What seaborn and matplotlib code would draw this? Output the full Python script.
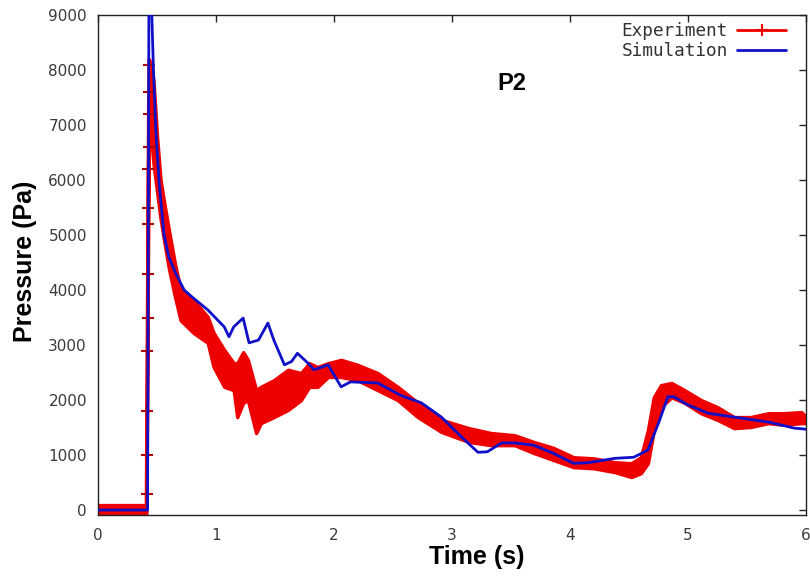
import numpy as np
import pandas as pd
import matplotlib
matplotlib.use("Agg")
import matplotlib.pyplot as plt
import seaborn as sns
from matplotlib.lines import Line2D

# ---- data ----
sim_t = [0, 0.42, 0.432, 0.445, 0.47, 0.49, 0.52, 0.56, 0.60, 0.66, 0.73, 0.81, 0.93,
         1.07, 1.11, 1.15, 1.23, 1.28, 1.36, 1.44, 1.49, 1.58, 1.64, 1.69,
         1.78, 1.83, 1.90, 1.95, 2.06, 2.14, 2.37, 2.57, 2.74, 2.91, 3.08, 3.22, 3.30,
         3.42, 3.53, 3.69, 3.86, 4.03, 4.15, 4.38, 4.54, 4.66, 4.75, 4.83, 4.88, 5.00,
         5.17, 5.39, 5.68, 5.90, 6.00]
sim_p = [0, 0, 9700, 9800, 8000, 6900, 5900, 5000, 4600, 4300, 4000, 3850, 3640,
         3330, 3150, 3330, 3490, 3040, 3090, 3400, 3090, 2640, 2700, 2850,
         2670, 2550, 2600, 2640, 2240, 2330, 2310, 2080, 1950, 1690, 1330, 1050, 1060,
         1220, 1220, 1180, 1030, 850, 860, 940, 960, 1090, 1580, 2060, 2060, 1910,
         1760, 1690, 1600, 1490, 1470]

exp_t = [0, 0.41, 0.43, 0.45, 0.47, 0.50, 0.53, 0.56, 0.60, 0.65, 0.70, 0.81, 0.93,
         0.98, 1.07, 1.15, 1.18, 1.23, 1.27, 1.34, 1.38, 1.49, 1.61, 1.72, 1.79,
         1.86, 1.95, 2.06, 2.20, 2.37, 2.54, 2.71, 2.91, 3.14, 3.33, 3.53, 3.69,
         3.86, 4.03, 4.20, 4.38, 4.52, 4.60, 4.66, 4.71, 4.77, 4.86, 4.97, 5.11, 5.25,
         5.39, 5.53, 5.68, 5.81, 5.96, 6.00]
exp_lo = [-60, -60, 6800, 6800, 6300, 5800, 5300, 4900, 4400, 3900, 3450, 3220, 3040,
          2600, 2240, 2180, 1690, 1950, 2000, 1400, 1580, 1690, 1820, 2000, 2240,
          2240, 2420, 2420, 2360, 2180, 2000, 1690, 1420, 1240, 1180, 1180, 1040,
          910, 780, 760, 690, 600, 670, 850, 1450, 1870, 2050, 1950, 1760, 1640,
          1490, 1510, 1580, 1550, 1580, 1580]
exp_hi = [90, 90, 8200, 8100, 7800, 6800, 6000, 5600, 5100, 4500, 4000, 3820, 3510,
          3220, 2910, 2670, 2670, 2870, 2730, 2180, 2240, 2360, 2550, 2490, 2670,
          2600, 2670, 2730, 2640, 2490, 2240, 1950, 1640, 1490, 1400, 1360, 1240,
          1130, 960, 940, 870, 850, 960, 1450, 2050, 2270, 2310, 2180, 2000, 1870,
          1690, 1690, 1760, 1760, 1780, 1700]
# samples on the steep rise of the experiment
rise_t = [0.415, 0.415, 0.418, 0.418, 0.42, 0.42, 0.422, 0.424, 0.426, 0.428, 0.43, 0.432, 0.434]
rise_p = [300, 1000, 1800, 2900, 3500, 4300, 5200, 5500, 6200, 6600, 7200, 7600, 8100]

x_ticks = [0, 1, 2, 3, 4, 5, 6]
y_ticks = [0, 1000, 2000, 3000, 4000, 5000, 6000, 7000, 8000, 9000]

RED = "#ee0000"
BLUE = "#1010c8"

sns.set_theme(style="white")
plt.rcParams["font.family"] = ["DejaVu Sans"]

fig = plt.figure(figsize=(8.1, 5.76), dpi=100)
ax = fig.add_axes([98 / 810, 1 - 515 / 576, (806 - 98) / 810, (515 - 15) / 576])

exp_df = pd.DataFrame({"t": exp_t, "lo": exp_lo, "hi": exp_hi})
exp_df["mid"] = (exp_df["lo"] + exp_df["hi"]) / 2
sim_df = pd.DataFrame({"t": sim_t, "p": sim_p})

ax.fill_between(exp_df["t"], exp_df["lo"], exp_df["hi"], color=RED, linewidth=2.5,
                edgecolor=RED, zorder=2)
sns.lineplot(data=exp_df, x="t", y="mid", estimator=None, sort=False, color=RED,
             linewidth=2.5, ax=ax, zorder=2)
sns.lineplot(x=rise_t, y=rise_p, estimator=None, sort=False, color=RED, linewidth=2,
             marker="+", markersize=9, markeredgewidth=1.5, markeredgecolor="#b00000",
             ax=ax, zorder=2)
sns.lineplot(data=sim_df, x="t", y="p", estimator=None, sort=False, color=BLUE,
             linewidth=2, ax=ax, zorder=3)

ax.set_xlim(0, 6)
ax.set_ylim(-90, 9000)
ax.set_xticks(x_ticks)
ax.set_yticks(y_ticks)
ax.set_xticklabels([str(v) for v in x_ticks])
ax.set_yticklabels([str(v) for v in y_ticks])
ax.tick_params(axis="both", direction="in", length=5, width=1, color="#222222",
               top=True, right=True, labelsize=11, labelcolor="#3a3a3a")
ax.tick_params(axis="x", pad=9)
ax.tick_params(axis="y", pad=8)
for s in ax.spines.values():
    s.set_color("#222222")
    s.set_linewidth(1)
ax.set_xlabel("")
ax.set_ylabel("")

fig.text(477 / 810, 1 - 557 / 576, "Time (s)", ha="center", va="center",
         fontsize=18, fontweight="bold", family="Liberation Sans", color="black")
fig.text(25 / 810, 1 - 261 / 576, "Pressure (Pa)", ha="center", va="center",
         rotation=90, fontsize=18, fontweight="bold", family="Liberation Sans",
         color="black")
fig.text(512 / 810, 1 - 83 / 576, "P2", ha="center", va="center",
         fontsize=17, fontweight="bold", family="Liberation Sans", color="black")

handles = [Line2D([], [], color=RED, linewidth=2, marker="+", markersize=9,
                  markeredgewidth=1.5),
           Line2D([], [], color=BLUE, linewidth=2)]
leg = ax.legend(handles, ["Experiment", "Simulation"], loc="upper right",
                bbox_to_anchor=(0.995, 1.018), frameon=False, markerfirst=False,
                handlelength=2.8, handletextpad=0.5, labelspacing=0.1,
                prop={"family": "DejaVu Sans Mono", "size": 12.8})
for t in leg.get_texts():
    t.set_color("#333333")

fig.savefig("out.png", dpi=100)
